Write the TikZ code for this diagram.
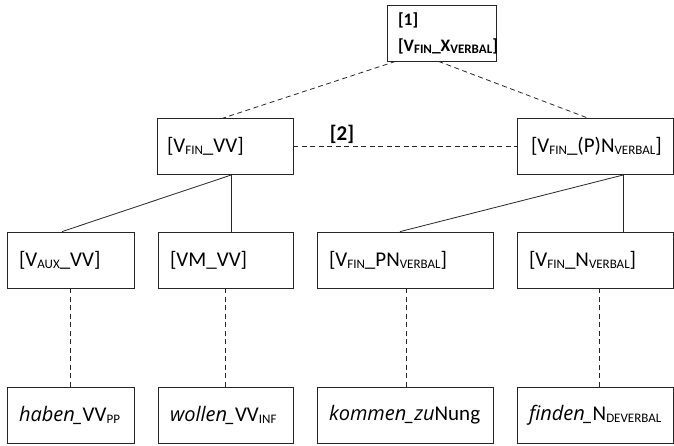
\documentclass[tikz,border=0pt]{standalone}
\usepackage{fontspec}
\setmainfont{Carlito}
\newfontfamily\itf{Open Sans}
\newcommand{\sbs}[1]{\raisebox{-2pt}{\fontsize{13}{13}\selectfont #1}}
\newcommand{\itx}[1]{{\itf\itshape\fontsize{20}{22}\selectfont #1}}
\begin{document}
\begin{tikzpicture}[x=1pt,y=-1pt,
  every node/.style={font=\fontsize{21}{24}\selectfont},
  box/.style={draw=black!85, line width=0.8pt, minimum height=56pt, inner ysep=0pt, inner xsep=12pt, align=left},
  dsh/.style={draw=black!85, line width=0.8pt, dash pattern=on 5pt off 3.5pt},
  sol/.style={draw=black!85, line width=0.8pt}]
\useasboundingbox (0,0) rectangle (674,445);
% top
\node[box, text width=87pt, minimum height=56pt, inner xsep=11pt, font=\fontsize{17.5}{26}\selectfont\bfseries] (top) at (441.5,33) {[1]\\{}[V\sbs{FIN}\_X\sbs{VERBAL}]};
% level 2
\node[box, text width=116pt, inner xsep=10pt] (L) at (225,146.5) {[V\sbs{FIN}\_VV]};
\node[box, text width=128pt, inner xsep=14pt] (R) at (595,146.5) {[V\sbs{FIN}\_(P)N\sbs{VERBAL}]};
% level 3
\node[box, text width=103pt] (A) at (70.5,260) {[V\sbs{AUX}\_VV]};
\node[box, text width=111pt] (B) at (225.5,260) {[VM\_VV]};
\node[box, text width=152pt] (C) at (405,260) {[V\sbs{FIN}\_PN\sbs{VERBAL}]};
\node[box, text width=132pt] (D) at (595,260) {[V\sbs{FIN}\_N\sbs{VERBAL}]};
% level 4
\node[box, text width=103pt] (A4) at (70.5,415) {\itx{haben\_}VV\sbs{PP}};
\node[box, text width=111pt] (B4) at (225.5,415) {\itx{wollen\_}VV\sbs{INF}};
\node[box, text width=152pt] (C4) at (405,415) {\itx{kommen\_zu}Nung};
\node[box, text width=132pt] (D4) at (595,415) {\itx{finden\_}N\sbs{DEVERBAL}};
% label [2]
\node[font=\fontsize{21}{24}\selectfont\bfseries, anchor=base] (lab2) at (342,140) {[2]};
% dashed connectors
\draw[dsh] ([xshift=-46pt]top.south) -- ([xshift=-2pt]L.north);
\draw[dsh] ([xshift=-3pt]top.south) -- ([xshift=-7pt]R.north);
\draw[dsh] (L.east) -- (R.west);
% solid tree lines
\coordinate (Ls) at ([xshift=6.5pt]L.south);
\coordinate (Rs) at ([xshift=28.5pt]R.south);
\draw[sol] (Ls) -- ([xshift=-8.5pt]A.north);
\draw[sol] (Ls) -- (Ls |- B.north);
\draw[sol] (Rs) -- ([xshift=-5pt]C.north);
\draw[sol] (Rs) -- (Rs |- D.north);
% dashed verticals
\draw[dsh] (A.south) -- (A4.north);
\draw[dsh] (B.south) -- (B4.north);
\draw[dsh] ([xshift=1pt]C.south) -- ([xshift=1pt]C4.north);
\draw[dsh] ([xshift=4pt]D.south) -- ([xshift=4pt]D4.north);
\end{tikzpicture}
\end{document}
